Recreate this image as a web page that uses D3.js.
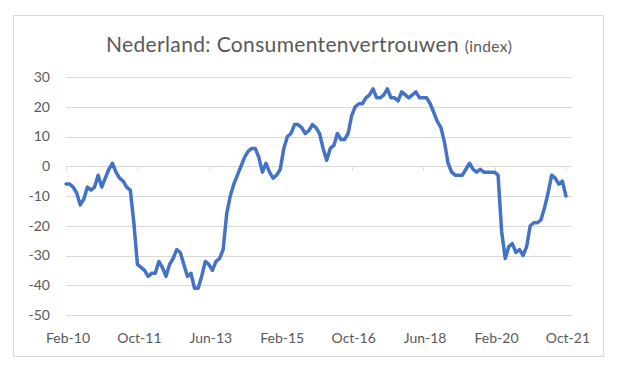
<!DOCTYPE html>
<html>
<head>
<meta charset="utf-8">
<script src="https://cdn.jsdelivr.net/npm/d3@7"></script>
<style>
    body { margin: 0; background: #fff; }
    .axis-label { font-family: Lato, "Open Sans", sans-serif; font-size: 14px; fill: #595959; }
    .chart-title { font-family: Lato, "Open Sans", sans-serif; fill: #595959; }
</style>
</head>
<body>
<svg id="chart"></svg>
<script>
// Consumer confidence, monthly, Feb-10 .. Oct-21
const startMonth = new Date(2010, 1, 1);
const confidence = [
    -6, -6, -7, -9, -13, -11, -7, -8, -7, -3, -7, -4,
    -1, 1, -2, -4, -5, -7, -8, -19, -33, -34, -35, -37,
    -36, -36, -32, -34, -37, -33, -31, -28, -29, -33, -37, -36,
    -41, -41, -37, -32, -33, -35, -32, -31, -28, -16, -10, -6,
    -3, 0, 3, 5, 6, 6, 3, -2, 1, -2, -4, -3,
    -1, 6, 10, 11, 14, 14, 13, 11, 12, 14, 13, 11,
    6, 2, 6, 7, 11, 9, 9, 11, 17, 20, 21, 21,
    23, 24, 26, 23, 23, 24, 26, 23, 23, 22, 25, 24,
    23, 24, 25, 23, 23, 23, 21, 18, 15, 13, 8, 1,
    -2, -3, -3, -3, -1, 1, -1, -2, -1, -2, -2, -2,
    -2, -3, -22, -31, -27, -26, -29, -28, -30, -27, -20, -19,
    -19, -18, -14, -9, -3, -4, -6, -5, -10
];
const yTicks = [30, 20, 10, 0, -10, -20, -30, -40, -50];
const xTickLabels = ['Feb-10', 'Oct-11', 'Jun-13', 'Feb-15', 'Oct-16', 'Jun-18', 'Feb-20', 'Oct-21'];
const xTickStep = 20; // months between labels

class LineChart {

    constructor(_config, _data) {
        this.config = {
            parentElement: _config.parentElement,
            containerWidth: 625,
            containerHeight: 373,
            margin: {top: 77, right: 53, bottom: 58, left: 66}
        };
        this.data = _data;
        this.initVis();
    }

    initVis() {
        let vis = this;

        vis.width = vis.config.containerWidth - vis.config.margin.left - vis.config.margin.right;
        vis.height = vis.config.containerHeight - vis.config.margin.top - vis.config.margin.bottom;

        vis.svg = d3.select(vis.config.parentElement)
            .attr('width', vis.config.containerWidth)
            .attr('height', vis.config.containerHeight);

        // chart frame
        vis.svg.append('rect')
            .attr('x', 13.5)
            .attr('y', 15.5)
            .attr('width', 590)
            .attr('height', 341)
            .attr('fill', '#fff')
            .attr('stroke', '#d9d9d9');

        vis.chart = vis.svg.append('g')
            .attr('transform', `translate(${vis.config.margin.left},${vis.config.margin.top})`);

        // axis runs a little past the last month, like the original
        vis.xScale = d3.scaleLinear()
            .domain([0, vis.data.length + 0.7])
            .range([0, vis.width]);

        vis.yScale = d3.scaleLinear()
            .domain([d3.min(yTicks), d3.max(yTicks)])
            .range([vis.height, 0]);

        // title
        const title = vis.svg.append('text')
            .attr('class', 'chart-title')
            .attr('x', 106)
            .attr('y', 52)
            .style('letter-spacing', '0.35px');
        title.append('tspan')
            .style('font-size', '21px')
            .text('Nederland: Consumentenvertrouwen ');
        title.append('tspan')
            .style('font-size', '15.5px')
            .text('(index)');

        vis.renderVis();
    }

    renderVis() {
        let vis = this;

        // horizontal gridlines
        vis.chart.selectAll('.grid-line')
            .data(yTicks)
            .join('line')
            .attr('class', 'grid-line')
            .attr('x1', 0)
            .attr('x2', vis.width)
            .attr('y1', d => Math.round(vis.yScale(d)) + 0.5)
            .attr('y2', d => Math.round(vis.yScale(d)) + 0.5)
            .attr('stroke', '#d9d9d9')
            .attr('stroke-width', 1);

        // y labels
        vis.chart.selectAll('.y-label')
            .data(yTicks)
            .join('text')
            .attr('class', 'axis-label y-label')
            .attr('x', -16)
            .attr('y', d => vis.yScale(d))
            .attr('dy', '0.35em')
            .attr('text-anchor', 'end')
            .text(d => d);

        // category axis crosses at zero: small tick marks there
        const tickIdx = xTickLabels.map((d, i) => i * xTickStep);
        vis.chart.selectAll('.x-tick')
            .data(tickIdx)
            .join('line')
            .attr('class', 'x-tick')
            .attr('x1', d => Math.round(vis.xScale(d)) + 0.5)
            .attr('x2', d => Math.round(vis.xScale(d)) + 0.5)
            .attr('y1', Math.round(vis.yScale(0)) + 0.5)
            .attr('y2', Math.round(vis.yScale(0)) + 4.5)
            .attr('stroke', '#d9d9d9');

        // x labels sit below the plot
        vis.chart.selectAll('.x-label')
            .data(xTickLabels)
            .join('text')
            .attr('class', 'axis-label x-label')
            .attr('x', (d, i) => vis.xScale(i * xTickStep) + 2)
            .attr('y', vis.height + 28)
            .attr('text-anchor', 'middle')
            .text(d => d);

        const line = d3.line()
            .x((d, i) => vis.xScale(i))
            .y(d => vis.yScale(d));

        vis.chart.append('path')
            .datum(vis.data)
            .attr('d', line)
            .attr('fill', 'none')
            .attr('stroke', '#4472c4')
            .attr('stroke-width', 3.5)
            .attr('stroke-linejoin', 'round')
            .attr('stroke-linecap', 'round');
    }
}

new LineChart({parentElement: '#chart'}, confidence);
</script>
</body>
</html>
